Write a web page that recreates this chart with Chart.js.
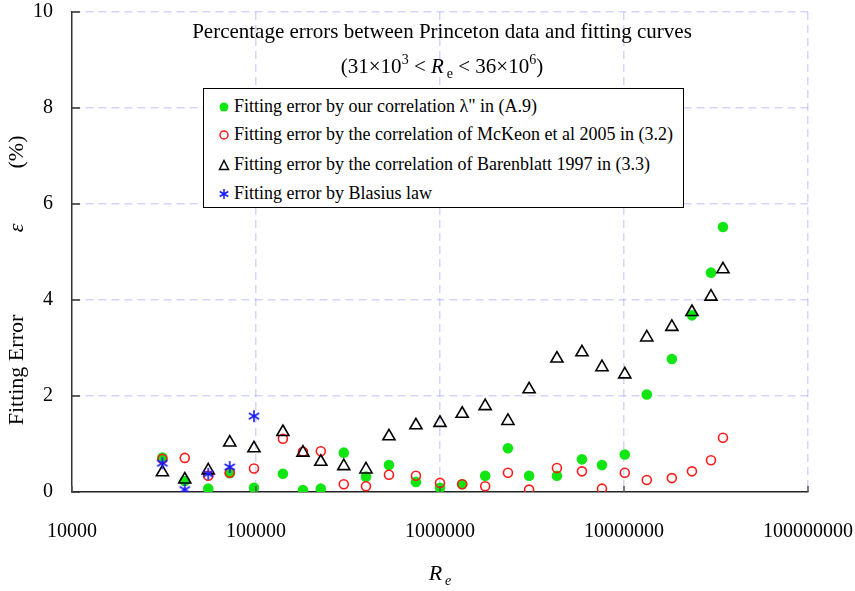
<!DOCTYPE html>
<html>
<head>
<meta charset="utf-8">
<script src="https://cdn.jsdelivr.net/npm/chart.js@4/dist/chart.umd.min.js"></script>
<style>
  body { margin: 0; background: #fff; }
  #wrap { position: relative; width: 855px; height: 591px; font-family: 'Liberation Serif', 'Times New Roman', serif; color: #000; }
  #chart { position: absolute; left: 0; top: 0; }
  .title { position: absolute; left: 142px; width: 600px; top: 14px; text-align: center; font-size: 21px; line-height: 35px; }
  .title sup { font-size: 14px; vertical-align: 0; position: relative; top: -9px; line-height: 0; }
  .title sub, .xtitle sub { font-size: 14px; vertical-align: 0; position: relative; top: 5px; line-height: 0; margin-left: 3px; }
  .legend { position: absolute; left: 203px; top: 88px; width: 479px; height: 118px; border: 1px solid #000; background: #fff; font-size: 18px; }
  .legend .row { position: absolute; left: 14px; height: 24px; line-height: 24px; white-space: nowrap; }
  .legend svg { vertical-align: -1px; margin-right: 4px; }
  .xtitle { position: absolute; left: 390px; width: 100px; top: 560px; text-align: center; font-size: 22px; font-style: italic; }
  .ypart { position: absolute; width: 200px; height: 26px; line-height: 26px; text-align: center; font-size: 22px; transform: rotate(-90deg); white-space: nowrap; }
</style>
</head>
<body>
<div id="wrap">
  <canvas id="chart" width="855" height="591"></canvas>
  <div class="title">Percentage errors between Princeton data and fitting curves<br>(31×10<sup>3</sup> &lt; <i>R</i><sub>e</sub> &lt; 36×10<sup>6</sup>)</div>
  <div class="legend">
    <div class="row" style="top:5px"><svg width="12" height="12"><circle cx="6" cy="6" r="4.5" fill="#12e612"/></svg>Fitting error by our correlation λ" in (A.9)</div>
    <div class="row" style="top:33px"><svg width="12" height="12"><circle cx="6" cy="6" r="4" fill="none" stroke="#ff1a1a" stroke-width="1.5"/></svg>Fitting error by the correlation of McKeon et al 2005 in (3.2)</div>
    <div class="row" style="top:63px"><svg width="12" height="12"><path d="M6 1.5 L10.5 10.5 L1.5 10.5 Z" fill="none" stroke="#000" stroke-width="1.5"/></svg>Fitting error by the correlation of Barenblatt 1997 in (3.3)</div>
    <div class="row" style="top:92px"><svg width="12" height="12"><path d="M6 1 L6 11 M1.7 3.5 L10.3 8.5 M1.7 8.5 L10.3 3.5" stroke="#1a1aff" stroke-width="1.5"/></svg>Fitting error by Blasius law</div>
  </div>
  <div class="xtitle">R<sub>e</sub></div>
  <div class="ypart" style="left:-84px; top:357px">Fitting Error</div>
  <div class="ypart" style="left:-84px; top:215px"><i>ε</i></div>
  <div class="ypart" style="left:-84px; top:139px">(%)</div>
</div>
<script>
// Reynolds numbers of the Princeton superpipe points
const reynolds = [31000, 41000, 55000, 72000, 97500, 140000, 180000, 225000, 300000, 396000,
  528000, 740000, 1000000, 1320000, 1760000, 2340000, 3050000, 4320000, 5910000, 7590000,
  10100000, 13300000, 18200000, 23400000, 29700000, 34500000];

const errOurs = [0.72, 0.23, 0.07, 0.39, 0.09, 0.38, 0.04, 0.07, 0.82, 0.32,
  0.56, 0.21, 0.09, 0.16, 0.34, 0.91, 0.34, 0.34, 0.68, 0.56,
  0.78, 2.03, 2.77, 3.68, 4.57, 5.52];
const errMcKeon = [0.69, 0.71, 0.34, 0.40, 0.49, 1.11, 0.84, 0.85, 0.16, 0.12,
  0.36, 0.34, 0.19, 0.16, 0.12, 0.40, 0.05, 0.50, 0.43, 0.07,
  0.40, 0.25, 0.29, 0.43, 0.66, 1.13];
const errBarenblatt = [0.41, 0.26, 0.45, 1.03, 0.91, 1.25, 0.82, 0.63, 0.54, 0.47,
  1.16, 1.39, 1.44, 1.63, 1.79, 1.48, 2.14, 2.78, 2.91, 2.60,
  2.45, 3.22, 3.44, 3.75, 4.07, 4.64];
// Blasius law only covers the first five points
const blasiusRe = [31000, 41000, 55000, 72000, 97500];
const errBlasius = [0.60, 0.05, 0.38, 0.52, 1.58];

const xTicks = [10000, 100000, 1000000, 10000000, 100000000];
const yTicks = [0, 2, 4, 6, 8, 10];

const toPoints = (xs, ys) => xs.map((x, i) => ({ x, y: ys[i] }));

function makeStar(color, r) {
  const c = document.createElement('canvas');
  c.width = c.height = r * 2 + 2;
  const g = c.getContext('2d');
  g.strokeStyle = color;
  g.lineWidth = 1.6;
  const m = r + 1;
  g.beginPath();
  for (let k = 0; k < 3; k++) {
    const a = Math.PI / 2 + k * Math.PI / 3;
    g.moveTo(m + r * Math.cos(a), m + r * Math.sin(a));
    g.lineTo(m - r * Math.cos(a), m - r * Math.sin(a));
  }
  g.stroke();
  return c;
}

const gridColor = 'rgba(170,170,255,0.5)';
const tickFont = { family: "'Liberation Serif', 'Times New Roman', serif", size: 20 };

// short inward tick marks on both axes
const innerTicks = {
  id: 'innerTicks',
  afterDraw(chart) {
    const { ctx, chartArea, scales } = chart;
    ctx.save();
    ctx.lineWidth = 1.5;
    ctx.strokeStyle = '#333';
    yTicks.forEach(v => {
      const y = scales.y.getPixelForValue(v);
      ctx.beginPath();
      ctx.moveTo(chartArea.left, y);
      ctx.lineTo(chartArea.left + 8, y);
      ctx.stroke();
    });
    ctx.strokeStyle = '#555';
    xTicks.forEach(v => {
      const x = scales.x.getPixelForValue(v);
      ctx.beginPath();
      ctx.moveTo(x, chartArea.bottom);
      ctx.lineTo(x, chartArea.bottom - 6);
      ctx.stroke();
    });
    ctx.restore();
  }
};

new Chart(document.getElementById('chart'), {
  type: 'scatter',
  data: {
    datasets: [
      {
        label: 'Fitting error by our correlation λ" in (A.9)',
        data: toPoints(reynolds, errOurs),
        pointStyle: 'circle',
        pointRadius: 5.3,
        backgroundColor: '#12e612',
        borderColor: '#12e612',
        borderWidth: 0,
        order: 4
      },
      {
        label: 'Fitting error by the correlation of McKeon et al 2005 in (3.2)',
        data: toPoints(reynolds, errMcKeon),
        pointStyle: 'circle',
        pointRadius: 4.5,
        backgroundColor: 'rgba(0,0,0,0)',
        borderColor: '#ff1a1a',
        borderWidth: 1.6,
        order: 3
      },
      {
        label: 'Fitting error by the correlation of Barenblatt 1997 in (3.3)',
        data: toPoints(reynolds, errBarenblatt),
        pointStyle: 'triangle',
        pointRadius: 7,
        backgroundColor: 'rgba(0,0,0,0)',
        borderColor: '#000',
        borderWidth: 1.6,
        order: 2
      },
      {
        label: 'Fitting error by Blasius law',
        data: toPoints(blasiusRe, errBlasius),
        pointStyle: makeStar('#1a1aff', 6),
        order: 1
      }
    ]
  },
  options: {
    responsive: false,
    animation: false,
    layout: { padding: { top: 12, right: 47, left: 0, bottom: 0 } },
    plugins: {
      legend: { display: false },
      title: { display: false },
      tooltip: { enabled: false }
    },
    scales: {
      x: {
        type: 'logarithmic',
        min: 10000,
        max: 100000000,
        afterBuildTicks: s => { s.ticks = xTicks.map(v => ({ value: v })); },
        afterFit: s => { s.height = 99; s.paddingLeft = 0; s.paddingRight = 0; },
        ticks: {
          callback: v => String(v),
          font: tickFont,
          color: '#000',
          padding: 28,
          maxRotation: 0,
          autoSkip: false
        },
        grid: {
          color: ctx => (ctx.index === 0 ? 'rgba(0,0,0,0)' : gridColor),
          lineWidth: 1.5,
          drawTicks: false
        },
        border: { color: '#222', width: 1.5, dash: [8, 5] }
      },
      y: {
        min: 0,
        max: 10,
        afterBuildTicks: s => { s.ticks = yTicks.map(v => ({ value: v })); },
        afterFit: s => { s.width = 72; s.paddingTop = 0; s.paddingBottom = 0; },
        ticks: { font: tickFont, color: '#000', padding: 19 },
        grid: {
          color: ctx => (ctx.index === 0 ? 'rgba(0,0,0,0)' : gridColor),
          lineWidth: 1.5,
          drawTicks: false
        },
        border: { color: '#333', width: 1.5, dash: [8, 5] }
      }
    }
  },
  plugins: [innerTicks]
});
</script>
</body>
</html>
